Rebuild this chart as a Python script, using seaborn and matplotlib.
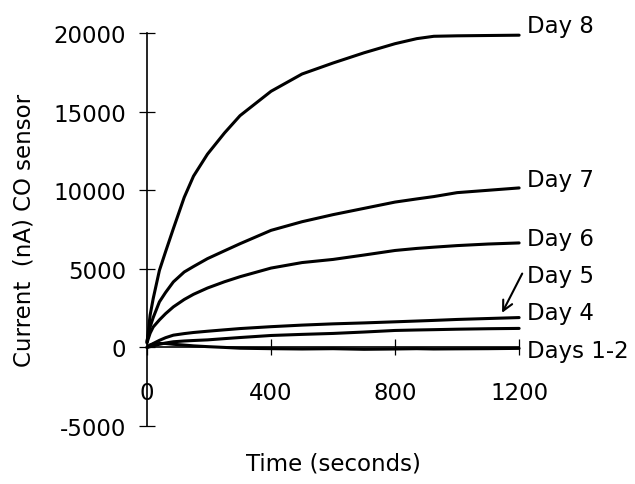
import pandas as pd
import numpy as np
import matplotlib
matplotlib.use("Agg")
import matplotlib.pyplot as plt
import seaborn as sns

sns.set_style('ticks')
plt.rcParams['font.family'] = ['DejaVu Sans']
plt.rcParams['axes.unicode_minus'] = False
plt.rcParams['text.color'] = 'black'
plt.rcParams['axes.labelcolor'] = 'black'

# Readings (time in seconds, current in nA)
time_s = [0, 10, 20, 40, 60, 85, 120, 150, 195, 250, 300, 400, 500, 600,
          700, 800, 870, 925, 1000, 1100, 1200]
day8 = [300, 2050, 3110, 4900, 6100, 7560, 9550, 10900, 12300, 13650, 14750,
        16300, 17400, 18100, 18750, 19330, 19650, 19800, 19830, 19850, 19870]
day7 = [400, 1300, 1900, 2900, 3500, 4170, 4800, 5150, 5650, 6150, 6600,
        7450, 8000, 8450, 8850, 9250, 9450, 9600, 9850, 10000, 10150]
day6 = [300, 900, 1300, 1750, 2150, 2580, 3050, 3380, 3780, 4180, 4500,
        5050, 5400, 5600, 5880, 6170, 6300, 6380, 6480, 6580, 6650]
day5 = [0, 150, 250, 450, 620, 780, 880, 950, 1030, 1120, 1200,
        1320, 1420, 1500, 1560, 1630, 1680, 1720, 1780, 1840, 1900]
day4 = [0, 50, 100, 200, 280, 360, 410, 440, 480, 560, 630,
        760, 830, 890, 980, 1080, 1110, 1130, 1160, 1190, 1210]
days12 = [0, 150, 200, 250, 250, 200, 150, 100, 50, 0, -50,
          -80, -100, -80, -120, -100, -80, -100, -90, -80, -60]

series = {'Day 8': day8, 'Day 7': day7, 'Day 6': day6,
          'Day 5': day5, 'Day 4': day4, 'Days 1-2': days12}
df = pd.concat([pd.DataFrame({'time': time_s, 'current': v, 'day': k})
                for k, v in series.items()], ignore_index=True)

# Label text and positions at the right end of the lines
label_names = ['Day 8', 'Day 7', 'Day 6', 'Day 5', 'Day 4', 'Days 1-2']
label_y = [20500, 10700, 6950, 4600, 2200, -200]

fig = plt.figure(figsize=(6.35, 4.85), dpi=100)
ax = fig.add_axes([0.2315, 0.1196, 0.586, 0.810])

sns.lineplot(data=df, x='time', y='current', hue='day',
             palette=['black'] * len(series), legend=False,
             linewidth=2.2, ax=ax, clip_on=False)

ax.set_xlim(0, 1200)
ax.set_ylim(-5000, 20000)
ax.set_xticks([0, 400, 800, 1200])
ax.set_yticks([-5000, 0, 5000, 10000, 15000, 20000])

ax.spines['top'].set_visible(False)
ax.spines['right'].set_visible(False)
ax.spines['bottom'].set_position(('data', 0))
ax.spines['left'].set_linewidth(1.2)
ax.spines['bottom'].set_linewidth(1.2)
ax.spines['left'].set_color('black')
ax.spines['bottom'].set_color('black')

ax.tick_params(axis='both', direction='inout', length=12, width=0.9,
               labelsize=16.5, colors='black')
ax.tick_params(axis='y', pad=9)
ax.tick_params(axis='x', pad=18)

ax.set_xlabel('Time (seconds)', fontsize=16.5)
ax.set_ylabel('Current  (nA) CO sensor', fontsize=16.5)
ax.xaxis.set_label_coords(0.5, -0.066)
ax.yaxis.set_label_coords(-0.30, 0.5)

for name, y in zip(label_names, label_y):
    ax.text(1226, y, name, fontsize=16.5, va='center', ha='left')

ax.annotate('', xy=(1145, 2200), xytext=(1210, 4700),
            arrowprops=dict(arrowstyle='->', lw=1.5, color='black',
                            mutation_scale=18, shrinkA=0, shrinkB=0))

plt.savefig('out.png', dpi=100)
plt.close()
